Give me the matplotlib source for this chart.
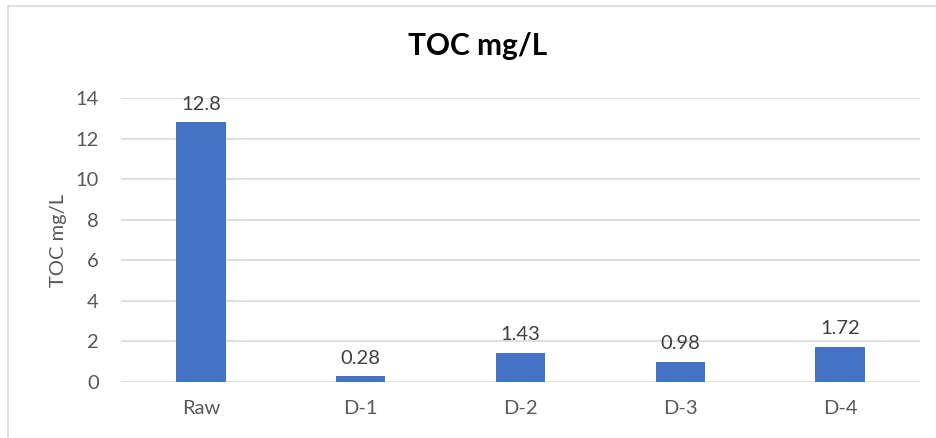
import matplotlib.pyplot as plt

# TOC results per sample
categories = ["Raw", "D-1", "D-2", "D-3", "D-4"]
toc_values = [12.8, 0.28, 1.43, 0.98, 1.72]
value_labels = ["12.8", "0.28", "1.43", "0.98", "1.72"]
y_ticks = [0, 2, 4, 6, 8, 10, 12, 14]

plt.rcParams['font.family'] = ['Lato', 'DejaVu Sans']

fig = plt.figure(figsize=(9.37, 4.38), dpi=100)
ax = fig.add_axes([121 / 937, 1 - 382 / 438, (920 - 121) / 937, (382 - 98) / 438])

x = range(len(categories))
ax.bar(x, toc_values, width=0.31, color='#4472C4', zorder=3)

for xi, v, lab in zip(x, toc_values, value_labels):
    ax.annotate(lab, (xi, v), xytext=(0, 7), textcoords='offset points',
                ha='center', va='bottom', fontsize=14.5, color='#404040')

ax.set_xlim(-0.5, len(categories) - 0.5)
ax.set_ylim(0, 14)
ax.set_yticks(y_ticks)
ax.set_xticks(list(x))
ax.set_xticklabels(categories)
ax.tick_params(axis='both', length=0, labelsize=14.5, labelcolor='#595959')
ax.tick_params(axis='x', pad=13)
ax.tick_params(axis='y', pad=16)
ax.grid(axis='y', color='#D9D9D9', linewidth=1.2, zorder=0)
for s in ax.spines.values():
    s.set_visible(False)

ax.set_ylabel("TOC mg/L", fontsize=14.5, color='#595959', labelpad=6)
fig.text(478 / 937, 1 - 46 / 438, "TOC mg/L", ha='center', va='center',
         fontsize=21.5, fontweight='bold', color='black')

# chart frame (left and top edges visible)
fig.add_artist(plt.Line2D([8 / 937, 8 / 937], [0, 1 - 6 / 438], color='#D9D9D9',
                          linewidth=1.2, transform=fig.transFigure))
fig.add_artist(plt.Line2D([8 / 937, 1], [1 - 6 / 438, 1 - 6 / 438], color='#D9D9D9',
                          linewidth=1.2, transform=fig.transFigure))

fig.savefig("out.png", dpi=100)
